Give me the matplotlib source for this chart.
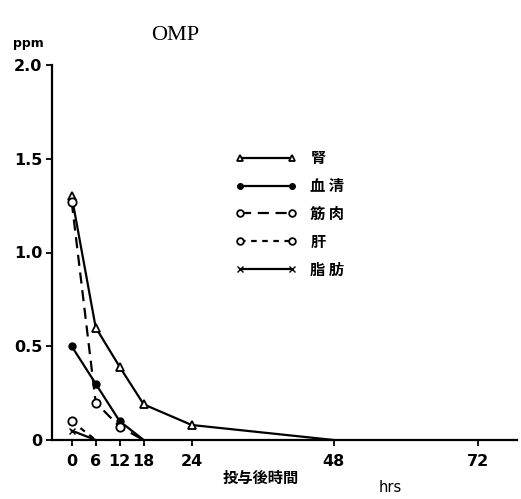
import matplotlib
matplotlib.use("Agg")
import matplotlib.pyplot as plt
import numpy as np

plt.rcParams["font.family"] = ["DejaVu Sans", "Noto Sans CJK JP"]

# Sampling times after dosing (hrs) and OMP residue (ppm) per tissue
hours_kidney = [0, 6, 12, 18, 24, 48]
kidney = [1.30, 0.60, 0.39, 0.19, 0.08, 0.0]

hours_serum = [0, 6, 12, 18]
serum = [0.50, 0.30, 0.10, 0.0]

hours_muscle = [0, 6, 12, 18]
muscle = [1.27, 0.20, 0.07, 0.0]

hours_liver = [0, 6]
liver = [0.10, 0.0]

hours_fat = [0, 6]
fat = [0.05, 0.0]

x_ticks = [0, 6, 12, 18, 24, 48, 72]
y_ticks = [0, 0.5, 1.0, 1.5, 2.0]
y_tick_labels = ["0", "0.5", "1.0", "1.5", "2.0"]

# the time axis is drawn unevenly: early hours are compressed
knot_hours = np.array([-40.0, 0.0, 18.0, 24.0, 48.0, 72.0, 120.0])
knot_pos = np.array([-160.0, 0.0, 72.0, 120.0, 262.0, 406.0, 694.0])


def forward(h):
    return np.interp(h, knot_hours, knot_pos)


def inverse(p):
    return np.interp(p, knot_pos, knot_hours)


fig = plt.figure(figsize=(5.21, 4.99), dpi=100)
ax = fig.add_axes([52 / 521, 1 - 440 / 499, (517 - 52) / 521, (440 - 65) / 499])
ax.set_xscale("function", functions=(forward, inverse))
ax.set_xlim(inverse(-19.7), inverse(445.3))
ax.set_ylim(0, 2.0)

kw = dict(color="black", lw=1.6, markersize=6, markeredgewidth=1.3)
ax.plot(hours_kidney, kidney, marker="^", markerfacecolor="white",
        markevery=list(range(len(kidney) - 1)), label="腎", **kw)
ax.plot(hours_serum, serum, marker="o", markerfacecolor="black", markersize=5,
        color="black", lw=1.6, markevery=list(range(len(serum) - 1)), label="血 清")
ax.plot(hours_muscle, muscle, marker="o", markerfacecolor="white",
        dashes=(5, 3), markevery=list(range(len(muscle) - 1)), label="筋 肉", **kw)
ax.plot(hours_liver, liver, marker="o", markerfacecolor="white",
        dashes=(2.5, 2.5), markevery=[0], label="肝", **kw)
ax.plot(hours_fat, fat, marker="x", markersize=5, color="black", lw=1.6,
        markevery=[0], label="脂 肪")

for side in ["top", "right"]:
    ax.spines[side].set_visible(False)
for side in ["left", "bottom"]:
    ax.spines[side].set_linewidth(1.6)

ax.set_xticks(x_ticks)
ax.set_xticklabels([str(t) for t in x_ticks])
ax.set_yticks(y_ticks)
ax.set_yticklabels(y_tick_labels)
ax.minorticks_off()
ax.tick_params(axis="both", direction="out", length=4, width=1.3, labelsize=11.5)
ax.tick_params(axis="x", pad=6)
ax.tick_params(axis="y", pad=3)
for lbl in ax.get_xticklabels() + ax.get_yticklabels():
    lbl.set_fontweight("bold")

leg = ax.legend(loc="upper left", bbox_to_anchor=(0.365, 0.81), frameon=False,
                numpoints=2, markerscale=0.8,
                handlelength=4.0, labelspacing=0.78, handletextpad=0.9,
                prop={"family": "Noto Sans CJK JP", "weight": "bold", "size": 11})

fig.text(175 / 521, 1 - 35 / 499, "OMP", family="Liberation Serif",
         fontsize=16, ha="center", va="center")
fig.text(28 / 521, 1 - 44 / 499, "ppm", fontsize=9, weight="bold",
         ha="center", va="center")
fig.text(261 / 521, 1 - 478 / 499, "投与後時間", family="Noto Sans CJK JP",
         weight="bold", fontsize=11, ha="center", va="center")
fig.text(390 / 521, 1 - 488 / 499, "hrs", fontsize=10.5, ha="center", va="center")

fig.savefig("out.png", dpi=100)
